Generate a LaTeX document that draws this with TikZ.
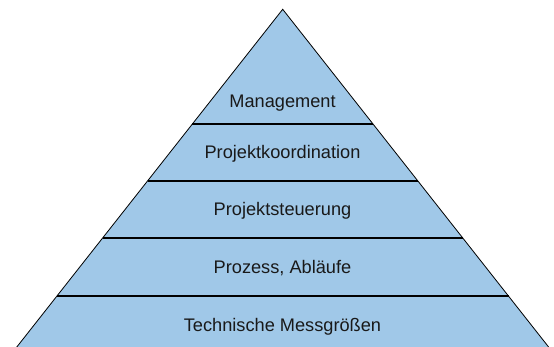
\documentclass[tikz,border=0pt]{standalone}
\usepackage{fontspec}
\setmainfont{Liberation Sans}
\definecolor{pyrblue}{RGB}{160,200,232}

\begin{document}
\begin{tikzpicture}[x=1pt,y=-1pt,
    layer/.style={font=\fontsize{18.2}{21}\selectfont,text=black!90},
    sep/.style={line width=1.6pt,black}]
\useasboundingbox (0,0) rectangle (554,347);
\coordinate (top) at (282.7,9.3);
\coordinate (bl) at (16.8,347.0);
\coordinate (br) at (548.6,347.0);
\coordinate (l1) at (192.4,124.0);
\coordinate (r1) at (373.0,124.0);
\coordinate (l2) at (147.5,181.0);
\coordinate (r2) at (417.9,181.0);
\coordinate (l3) at (102.6,238.0);
\coordinate (r3) at (462.8,238.0);
\coordinate (l4) at (56.9,296.0);
\coordinate (r4) at (508.5,296.0);
\fill [pyrblue] (top) -- (br) -- (bl) -- cycle;
\draw [sep] (l1) -- (r1);
\draw [sep] (l2) -- (r2);
\draw [sep] (l3) -- (r3);
\draw [sep] (l4) -- (r4);
\draw [line width=0.8pt,line join=miter] (bl) -- (top) -- (br);
\node [layer] (mgmt) at (282.5,103.0) {Management};
\node [layer] (koord) at (282.5,154.0) {Projektkoordination};
\node [layer] (steu) at (282.5,211.0) {Projektsteuerung};
\node [layer] (proz) at (282.5,268.0) {Prozess, Abläufe};
\node [layer] (tech) at (282.5,327.0) {Technische Messgrößen};
\end{tikzpicture}
\end{document}
